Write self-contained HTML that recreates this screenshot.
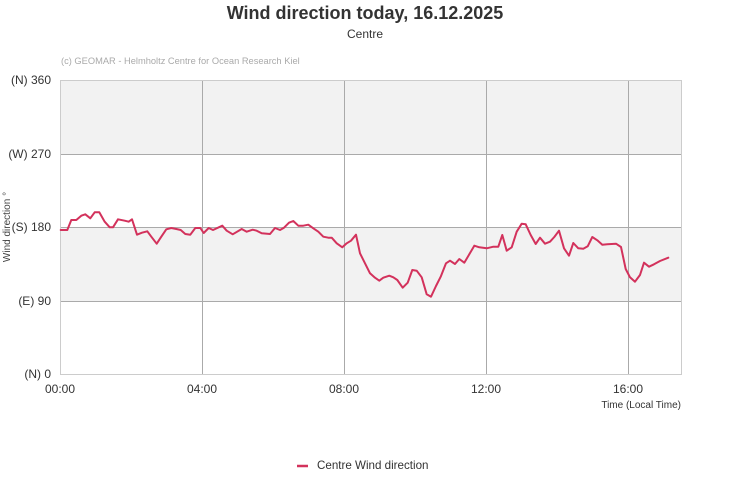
<!DOCTYPE html>
<html>
<head>
<meta charset="utf-8">
<style>
html,body{margin:0;padding:0;background:#fff;}
body{width:731px;height:500px;overflow:hidden;}
svg{display:block;font-family:"Liberation Sans",Arial,sans-serif;}
</style>
</head>
<body>
<svg width="731" height="500" viewBox="0 0 731 500" xmlns="http://www.w3.org/2000/svg">
  <rect x="0" y="0" width="731" height="500" fill="#fff"/>
  <!-- title -->
  <text x="365" y="19" text-anchor="middle" font-size="18" font-weight="bold" fill="#333">Wind direction today, 16.12.2025</text>
  <text x="365" y="38" text-anchor="middle" font-size="12" fill="#333">Centre</text>
  <text x="61" y="64" font-size="9.3" fill="#aaa">(c) GEOMAR - Helmholtz Centre for Ocean Research Kiel</text>

  <!-- bands -->
  <rect x="60.5" y="80.5" width="621" height="73.5" fill="#f2f2f2"/>
  <rect x="60.5" y="227.5" width="621" height="73.5" fill="#f2f2f2"/>

  <!-- grid -->
  <g stroke="#aaa" stroke-width="1">
    <line x1="60.5" y1="154.5" x2="681.5" y2="154.5"/>
    <line x1="60.5" y1="227.5" x2="681.5" y2="227.5"/>
    <line x1="60.5" y1="301.5" x2="681.5" y2="301.5"/>
    <line x1="202.5" y1="80.5" x2="202.5" y2="374.5"/>
    <line x1="344.5" y1="80.5" x2="344.5" y2="374.5"/>
    <line x1="486.5" y1="80.5" x2="486.5" y2="374.5"/>
    <line x1="628.5" y1="80.5" x2="628.5" y2="374.5"/>
  </g>
  <!-- border -->
  <rect x="60.5" y="80.5" width="621" height="294" fill="none" stroke="#ccc" stroke-width="1"/>

  <!-- y labels -->
  <g font-size="12" fill="#333" text-anchor="end">
    <text x="51" y="84">(N) 360</text>
    <text x="51" y="158">(W) 270</text>
    <text x="51" y="231">(S) 180</text>
    <text x="51" y="305">(E) 90</text>
    <text x="51" y="378">(N) 0</text>
  </g>
  <text transform="translate(10,227) rotate(-90)" text-anchor="middle" font-size="10" fill="#444">Wind direction °</text>

  <!-- x labels -->
  <g font-size="12" fill="#333" text-anchor="middle">
    <text x="60" y="393">00:00</text>
    <text x="202" y="393">04:00</text>
    <text x="344" y="393">08:00</text>
    <text x="486" y="393">12:00</text>
    <text x="628" y="393">16:00</text>
  </g>
  <text x="681" y="408" text-anchor="end" font-size="10" fill="#333">Time (Local Time)</text>

  <!-- series -->
  <polyline fill="none" stroke="#d3325c" stroke-width="2" stroke-linejoin="round" stroke-linecap="round"
    points="60.7,230 67.3,230 71.3,220 76.3,220 81.3,215.7 85.3,214.3 90.3,218.3 94.7,212.3 99.3,212.3 104.7,221.7 109.7,227.3 113,227.3 118,219.3 124.7,220.7 128.7,221.7 132,219.3 137,234.7 142,232.7 147.3,231.3 151.3,236.7 156.7,243.7 161.3,236.7 166.3,229.3 171.3,228 176.3,229 180.7,230 185.3,234 190.3,234.7 195.3,228 200.3,228 203.7,233 208.7,228 213,230 222.3,225.7 226.7,230.7 232.7,234.3 241.7,229 246.7,231.7 252.7,229.7 256.7,230.7 261.7,233.3 270,234 275,228 280,230 284,227.7 289,222.7 293.3,221 298.3,225.7 303.3,225.7 308.3,224.7 313.3,228.3 318.3,231.7 323.3,236.7 328.3,237.7 331.7,237.7 336.7,243.3 342.3,247.3 346.7,243.3 351,240.7 356,234.7 360,253.3 365,263.3 370,273.3 375,277.7 379.3,280.7 383.3,277.7 389.3,275.7 393.3,277.3 397.3,280 402.7,287.7 407.7,282.7 412.3,270 416.7,270.7 421.7,277.3 426.7,294.3 431,296.7 436,286 440.7,276.7 446,263.3 450,260.7 455,264 459.3,259 464.3,262.7 469.3,254.3 474.3,245.7 479.3,247.3 486.7,248.3 493.3,246.7 498.3,246.7 502.3,235 506.7,250.7 511.7,247.3 516.7,231.7 521.7,223.7 525.7,224.3 530.7,235 535.7,244 540,237.7 545,243.7 550,241.7 554.3,237 559,230.7 564,248.3 569,255.7 573.3,243 578.3,248.3 583.3,248.7 587.7,246.3 592.3,237 597.3,240.3 602.3,244.7 607.3,244.3 616,243.7 621,247 625.7,269 630,277.3 635,281.7 640,275 644,262.7 649,266.7 654,264.3 660,261 668.3,257.7"/>

  <!-- legend -->
  <line x1="297" y1="466" x2="308" y2="466" stroke="#d3325c" stroke-width="2.5"/>
  <text x="317" y="469" font-size="11.6" fill="#333">Centre Wind direction</text>
</svg>
</body>
</html>
